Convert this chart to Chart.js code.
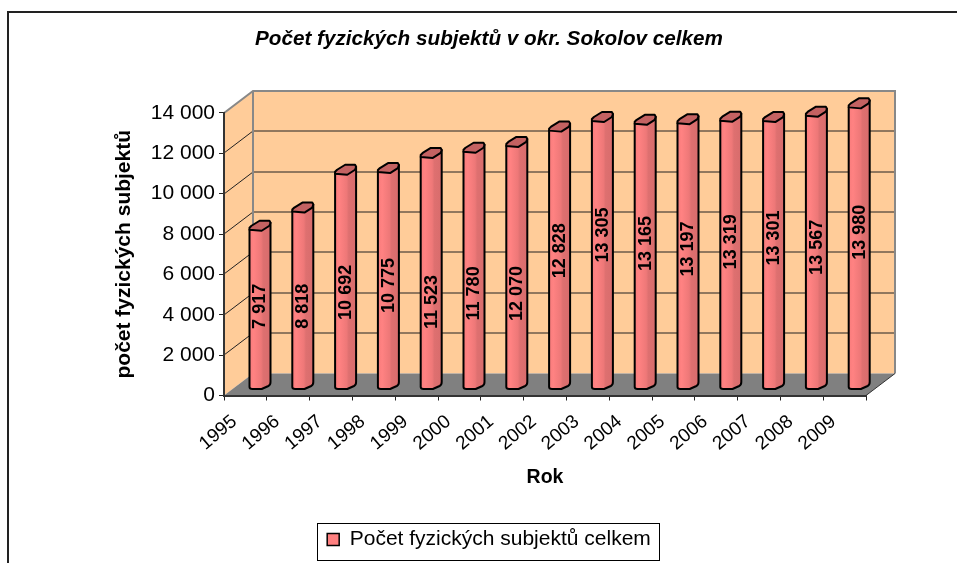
<!DOCTYPE html>
<html>
<head>
<meta charset="utf-8">
<title>Počet fyzických subjektů</title>
<script src="https://cdn.jsdelivr.net/npm/chart.js@4"></script>
<style>
    html, body { margin: 0; padding: 0; background: #fff; }
    #wrap { width: 957px; height: 563px; position: relative; }
</style>
</head>
<body>
<div id="wrap"><canvas id="chart"></canvas></div>
<script>
const years = ["1995", "1996", "1997", "1998", "1999", "2000", "2001", "2002", "2003", "2004", "2005", "2006", "2007", "2008", "2009"];
const subjects = [7917, 8818, 10692, 10775, 11523, 11780, 12070, 12828, 13305, 13165, 13197, 13319, 13301, 13567, 13980];
const seriesName = 'Počet fyzických subjektů celkem';
const chartTitle = 'Počet fyzických subjektů v okr. Sokolov celkem';
const yTitle = 'počet fyzických subjektů';
const xTitle = 'Rok';

const FONT = '"Liberation Sans", Arial, sans-serif';
// hloubka 3D sceny
const DEPTH_X = 29;
const DEPTH_Y = 22;
const BAR_SHIFT_X = 14.6;
const BAR_SHIFT_Y = 6;
// popisky nejsou v originale presne ve stredu sloupce
const LABEL_NUDGE = [-3, 6, 11, 5, 29, 23, 26, -9, -20, -13, -7, -13, -17, -5, -16];

function spaced(v) {
    return String(v).replace(/\B(?=(\d{3})+$)/g, ' ');
}

const scene = {
    id: 'scene',
    beforeDraw(chart) {
        const c = chart.ctx, a = chart.chartArea, y = chart.scales.y;
        c.save();
        c.fillStyle = '#fff';
        c.fillRect(0, 0, chart.width, chart.height);

        // ramecek grafu
        c.strokeStyle = '#222';
        c.lineWidth = 2;
        c.beginPath();
        c.moveTo(8, chart.height);
        c.lineTo(8, 12);
        c.lineTo(chart.width, 12);
        c.stroke();

        const bx = a.left + DEPTH_X, tp = a.top - DEPTH_Y, bt = a.bottom - DEPTH_Y;
        c.fillStyle = '#FFCC99';
        c.fillRect(bx, tp, a.right - a.left, bt - tp);
        c.beginPath();
        c.moveTo(a.left, a.bottom);
        c.lineTo(bx, bt);
        c.lineTo(bx, tp);
        c.lineTo(a.left, a.top);
        c.closePath();
        c.fill();

        // podlaha
        c.fillStyle = '#808080';
        c.beginPath();
        c.moveTo(a.left, a.bottom);
        c.lineTo(a.right, a.bottom);
        c.lineTo(a.right + DEPTH_X, bt);
        c.lineTo(bx, bt);
        c.closePath();
        c.fill();

        // mrizka
        c.strokeStyle = '#222';
        c.lineWidth = 1;
        y.ticks.forEach(t => {
            const py = Math.round(y.getPixelForValue(t.value));
            if (t.value === 0 || t.value === y.max) return;
            c.beginPath();
            c.moveTo(a.left, py);
            c.lineTo(bx, py - DEPTH_Y);
            c.lineTo(a.right + DEPTH_X, py - DEPTH_Y);
            c.stroke();
        });

        c.strokeStyle = '#888';
        c.lineWidth = 2;
        c.beginPath();
        c.moveTo(a.left, a.top);
        c.lineTo(bx, tp);
        c.lineTo(a.right + DEPTH_X, tp);
        c.lineTo(a.right + DEPTH_X, bt);
        c.moveTo(bx, tp);
        c.lineTo(bx, bt);
        c.stroke();

        c.strokeStyle = '#333';
        c.lineWidth = 1;
        c.beginPath();
        c.moveTo(a.right, a.bottom);
        c.lineTo(a.right + DEPTH_X, bt);
        c.stroke();
        c.restore();
    },
    beforeDatasetDraw(chart, args) {
        const c = chart.ctx;
        const meta = args.meta;
        const ds = chart.data.datasets[args.index];
        meta.data.forEach((el, i) => {
            const w = el.width;
            const L = el.x - w / 2 + BAR_SHIFT_X;
            const T = el.y - BAR_SHIFT_Y;
            const B = el.base - BAR_SHIFT_Y;
            const grad = c.createLinearGradient(L, 0, L + w, 0);
            grad.addColorStop(0, '#F87C7C');
            grad.addColorStop(0.2, '#FF8282');
            grad.addColorStop(0.55, '#EE7878');
            grad.addColorStop(0.65, '#DE7070');
            grad.addColorStop(1, '#D86C6C');

            c.save();
            c.lineJoin = 'round';
            c.strokeStyle = '#000';
            c.lineWidth = 2;
            c.fillStyle = grad;
            c.beginPath();
            c.moveTo(L, T);
            c.lineTo(L, B - 2);
            c.quadraticCurveTo(L, B, L + 3, B);
            c.lineTo(L + w * 0.58, B);
            c.lineTo(L + w * 0.9, B - 3);
            c.quadraticCurveTo(L + w, B - 4, L + w, B - 7);
            c.lineTo(L + w, T - 7);
            c.closePath();
            c.fill();
            c.stroke();

            c.fillStyle = '#C46262';
            c.beginPath();
            c.moveTo(L, T);
            c.lineTo(L + w * 0.58, T + 1);
            c.lineTo(L + w * 0.95, T - 4);
            c.lineTo(L + w, T - 7);
            c.lineTo(L + w * 0.95, T - 9);
            c.lineTo(L + w * 0.48, T - 9);
            c.lineTo(L + 2, T - 4);
            c.lineTo(L, T - 2);
            c.closePath();
            c.fill();
            c.stroke();

            // popisek hodnoty
            c.translate(L + w / 2 + 0.5, (T + B) / 2 + LABEL_NUDGE[i]);
            c.rotate(-Math.PI / 2);
            c.fillStyle = '#000';
            c.font = 'bold 18px ' + FONT;
            c.textAlign = 'center';
            c.textBaseline = 'middle';
            c.fillText(spaced(ds.data[i]), 0, 0);
            c.restore();
        });
        return false;
    },
    afterDraw(chart) {
        // ramecek legendy
        const l = chart.legend, c = chart.ctx;
        const box = l.legendHitBoxes[0];
        c.save();
        c.strokeStyle = '#000';
        c.lineWidth = 1;
        c.strokeRect(Math.round(box.left) - 9.5, Math.round(l.top) + 0.5, Math.round(box.width) + 18, Math.round(l.height) - 1);
        c.restore();
    }
};

new Chart(document.getElementById('chart'), {
    type: 'bar',
    plugins: [scene],
    data: {
        labels: years,
        datasets: [
            {
                label: seriesName,
                data: subjects,
                backgroundColor: '#FF8080',
                borderColor: '#000',
                borderWidth: 1.5,
                barThickness: 21
            }
        ]
    },
    options: {
        responsive: true,
        maintainAspectRatio: false,
        animation: false,
        layout: {
            padding: { left: 112, right: 91, top: 0, bottom: 3 }
        },
        plugins: {
            title: {
                display: true,
                text: chartTitle,
                color: '#000',
                font: { family: FONT, size: 20.7, weight: 'bold', style: 'italic', lineHeight: 1.1 },
                padding: { top: 28, bottom: 62.2 }
            },
            legend: {
                position: 'bottom',
                labels: {
                    color: '#000',
                    font: { family: FONT, size: 21 },
                    boxWidth: 12,
                    boxHeight: 12,
                    padding: 6.5
                }
            },
            tooltip: { enabled: false }
        },
        scales: {
            x: {
                afterFit(s) { s.height = 127; },
                grid: { drawOnChartArea: false, offset: true, tickLength: 5, color: '#222' },
                border: { color: '#333', width: 2 },
                ticks: {
                    color: '#000',
                    font: { family: FONT, size: 19 },
                    minRotation: 40,
                    maxRotation: 40,
                    autoSkip: false,
                    labelOffset: -11,
                    padding: 10
                },
                title: {
                    display: true,
                    text: xTitle,
                    color: '#000',
                    font: { family: FONT, size: 19.5, weight: 'bold' },
                    padding: { top: 0, bottom: 33 }
                }
            },
            y: {
                min: 0,
                max: 14000,
                afterFit(s) { s.width = 112; },
                grid: { drawOnChartArea: false, tickLength: 5, color: '#222' },
                border: { color: '#333', width: 2 },
                ticks: {
                    stepSize: 2000,
                    color: '#000',
                    font: { family: FONT, size: 21 },
                    padding: 4,
                    callback: v => spaced(v)
                },
                title: {
                    display: true,
                    text: yTitle,
                    color: '#000',
                    font: { family: FONT, size: 21, weight: 'bold' },
                    padding: { top: 0, bottom: 0 }
                }
            }
        }
    }
});
</script>
</body>
</html>
